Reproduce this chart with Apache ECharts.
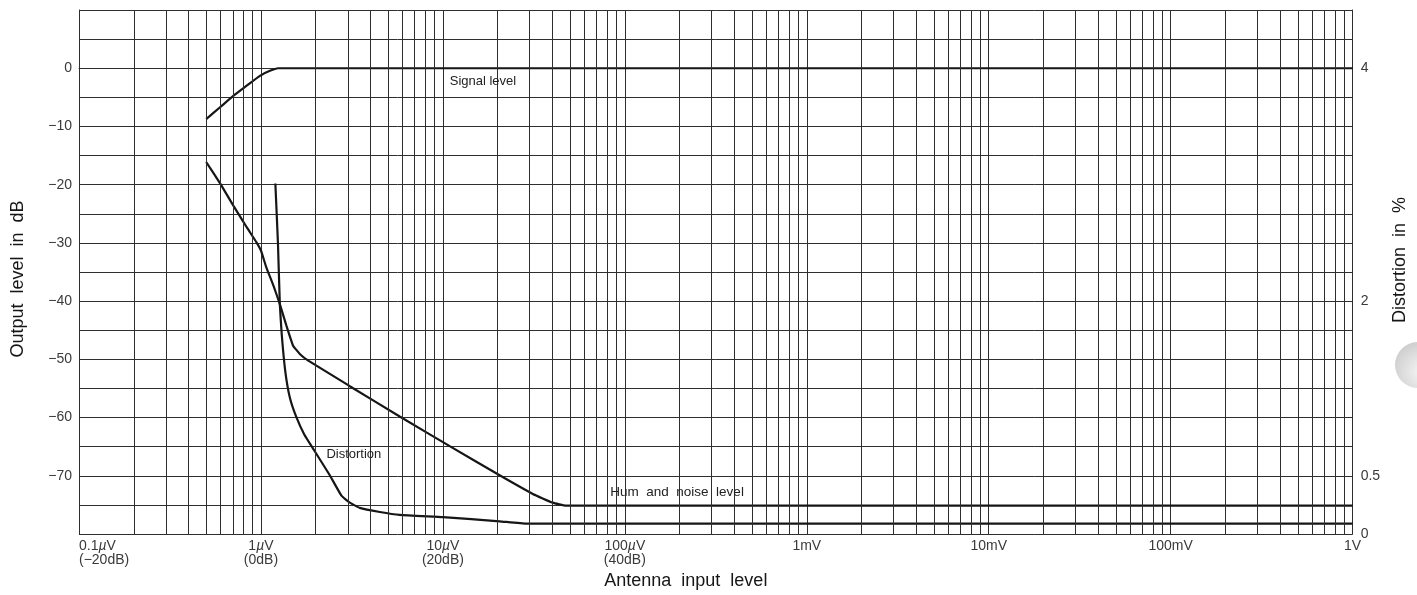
<!DOCTYPE html>
<html>
<head>
<meta charset="utf-8">
<script src="https://cdn.jsdelivr.net/npm/echarts@6/dist/echarts.min.js"></script>
<style>
  html, body { margin: 0; padding: 0; background: #ffffff; }
  #chart { width: 1417px; height: 595px; }
</style>
</head>
<body>
<div id="chart"></div>
<script>
// ---- Data (x in µV, y in dB; distortion in %) ----
const xTickValues = [0.1, 1, 10, 100, 1000, 10000, 100000, 1000000];
const xTickLabels = ['0.1µV\n(−20dB)', '1µV\n(0dB)', '10µV\n(20dB)', '100µV\n(40dB)', '1mV', '10mV', '100mV', '1V'];
const minorMultiples = [2, 3, 4, 5, 6, 7, 8, 9];
const leftTickLabels = [0, -10, -20, -30, -40, -50, -60, -70];
const rightTickLabels = [0, 0.5, 2, 4];

const signalInput = [0.5, 0.596, 0.705, 0.835, 0.987, 1.12, 1.24, 1000000];
const signalLevel = [-8.75, -6.7, -4.75, -3.0, -1.3, -0.45, 0, 0];

const humInput = [0.5, 0.6, 0.705, 0.835, 0.945, 1.0, 1.07, 1.17, 1.27, 1.38, 1.5, 1.64, 1.82, 3.08, 5.79, 10.9, 20.5, 31.2, 40.1, 47.5, 1000000];
const humLevel = [-16.1, -19.9, -23.6, -27.3, -29.9, -31.3, -34.2, -37.3, -40.5, -44.2, -47.6, -49.1, -50.2, -54.6, -59.8, -64.9, -69.9, -73.1, -74.6, -75.1, -75.1];

const distInput = [1.2, 1.24, 1.27, 1.30, 1.36, 1.44, 1.56, 1.73, 1.96, 2.39, 2.77, 3.08, 3.49, 4.5, 5.79, 10, 20.5, 28.7, 1000000];
const distPercent = [3.01, 2.5, 1.975, 1.72, 1.40, 1.175, 1.01, 0.855, 0.72, 0.505, 0.33, 0.27, 0.225, 0.19, 0.165, 0.145, 0.11, 0.09, 0.09];

// ---- Build ----
const zip = (a, b) => a.map((v, i) => [v, b[i]]);
const minorLines = [];
xTickValues.slice(0, -1).forEach(d => minorMultiples.forEach(m => minorLines.push({ xAxis: d * m })));

const FONT = '"Liberation Sans", Arial, Helvetica, sans-serif';
const INK = '#161616';
const GRID = '#2e2e2e';
const LABEL = '#3a3a3a';

const chart = echarts.init(document.getElementById('chart'), null, { renderer: 'canvas' });
chart.setOption({
  animation: false,
  backgroundColor: '#ffffff',
  textStyle: { fontFamily: FONT },
  grid: { left: 79, right: 62, top: 10, bottom: 59, containLabel: false },
  xAxis: {
    type: 'log', logBase: 10, min: 0.1, max: 1000000, splitNumber: 7,
    name: 'Antenna  input  level', nameLocation: 'middle', nameGap: 36,
    nameTextStyle: { fontSize: 18, color: INK, fontFamily: FONT, padding: [0, 60, 0, 0] },
    axisLine: { show: true, lineStyle: { color: GRID, width: 1 } },
    axisTick: { show: false },
    splitLine: { show: true, lineStyle: { color: GRID, width: 1 } },
    axisLabel: {
      margin: 5, fontSize: 14, color: LABEL, lineHeight: 14, fontFamily: FONT,
      alignMinLabel: 'left',
      formatter: v => {
        const i = xTickValues.findIndex(t => Math.abs(Math.log10(t) - Math.log10(v)) < 1e-6);
        return i < 0 ? '' : xTickLabels[i].replace('µ', '{mu|µ}');
      },
      rich: { mu: { fontStyle: 'italic', fontSize: 14, color: LABEL, fontFamily: FONT } }
    }
  },
  yAxis: [
    {
      type: 'value', min: -80, max: 10, interval: 5, position: 'left',
      name: 'Output  level  in  dB', nameLocation: 'middle', nameGap: 52, nameRotate: 90,
      nameTextStyle: { fontSize: 18, color: INK, fontFamily: FONT, padding: [0, 14, 0, 0] },
      axisLine: { show: true, lineStyle: { color: GRID, width: 1 } },
      axisTick: { show: false },
      splitLine: { show: true, lineStyle: { color: GRID, width: 1 } },
      axisLabel: {
        margin: 7, fontSize: 14, color: LABEL, fontFamily: FONT,
        formatter: v => leftTickLabels.includes(v) ? (v < 0 ? '−' + (-v) : String(v)) : ''
      }
    },
    {
      type: 'value', min: 0, max: 4.5, interval: 0.5, position: 'right',
      name: 'Distortion  in  %', nameLocation: 'middle', nameGap: 37, nameRotate: 90,
      nameTextStyle: { fontSize: 18, color: INK, fontFamily: FONT, padding: [0, 0, 0, 24] },
      axisLine: { show: true, lineStyle: { color: GRID, width: 1 } },
      axisTick: { show: false },
      splitLine: { show: false },
      axisLabel: {
        margin: 8, fontSize: 14, color: LABEL, fontFamily: FONT,
        formatter: v => rightTickLabels.some(t => Math.abs(t - v) < 1e-9) ? String(v) : ''
      }
    }
  ],
  series: [
    {
      name: 'Signal level', type: 'line', yAxisIndex: 0, data: zip(signalInput, signalLevel),
      showSymbol: false, smooth: 0.2, lineStyle: { color: INK, width: 2.2 },
      markLine: {
        silent: true, symbol: ['none', 'none'], label: { show: false },
        lineStyle: { color: GRID, width: 1, type: 'solid' }, data: minorLines
      },
      markPoint: {
        symbol: 'circle', symbolSize: 0,
        label: { show: true, position: 'right', distance: 0, color: '#222', fontSize: 13, fontFamily: FONT, formatter: 'Signal level' },
        data: [{ coord: [10.9, -2.2] }]
      }
    },
    {
      name: 'Hum and noise level', type: 'line', yAxisIndex: 0, data: zip(humInput, humLevel),
      showSymbol: false, smooth: 0.12, lineStyle: { color: INK, width: 2.2 },
      markPoint: {
        symbol: 'circle', symbolSize: 0,
        label: { show: true, position: 'right', distance: 0, color: '#222', fontSize: 13.5, fontFamily: FONT, formatter: 'Hum  and  noise  level' },
        data: [{ coord: [83.2, -72.8] }]
      }
    },
    {
      name: 'Distortion', type: 'line', yAxisIndex: 1, data: zip(distInput, distPercent),
      showSymbol: false, smooth: 0.12, lineStyle: { color: INK, width: 2.2 },
      markPoint: {
        symbol: 'circle', symbolSize: 0,
        label: { show: true, position: 'right', distance: 0, color: '#222', fontSize: 13, fontFamily: FONT, formatter: 'Distortion' },
        data: [{ coord: [2.29, 0.68] }]
      }
    }
  ],
  graphic: [
    {
      type: 'circle', shape: { cx: 1418, cy: 365, r: 23 },
      style: {
        fill: new echarts.graphic.RadialGradient(0.6, 0.65, 0.7, [
          { offset: 0, color: '#f6f6f6' }, { offset: 1, color: '#cdcdcd' }
        ])
      },
      silent: true
    }
  ]
});
</script>
</body>
</html>
